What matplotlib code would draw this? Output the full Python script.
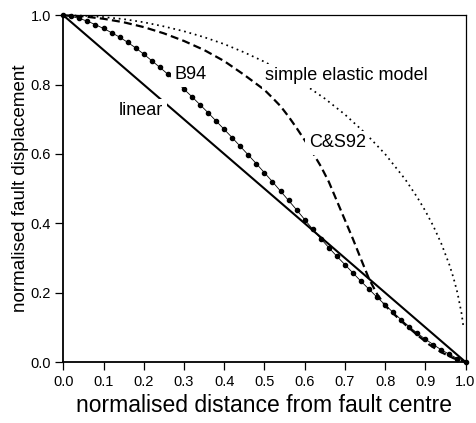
import matplotlib
matplotlib.use("Agg")
import matplotlib.pyplot as plt

plt.rcParams['font.family'] = ['Liberation Sans', 'DejaVu Sans']

# Linear taper
linear_x = [0.0, 1.0]
linear_y = [1.0, 0.0]

# B94 profile (sampled every 0.02)
b94_x = [0.00, 0.02, 0.04, 0.06, 0.08, 0.10, 0.12, 0.14, 0.16, 0.18,
         0.20, 0.22, 0.24, 0.26, 0.28, 0.30, 0.32, 0.34, 0.36, 0.38,
         0.40, 0.42, 0.44, 0.46, 0.48, 0.50, 0.52, 0.54, 0.56, 0.58,
         0.60, 0.62, 0.64, 0.66, 0.68, 0.70, 0.72, 0.74, 0.76, 0.78,
         0.80, 0.82, 0.84, 0.86, 0.88, 0.90, 0.92, 0.94, 0.96, 0.98, 1.00]
b94_y = [1.000, 0.997, 0.991, 0.983, 0.973, 0.962, 0.950, 0.937, 0.922, 0.906,
         0.888, 0.869, 0.850, 0.830, 0.809, 0.787, 0.765, 0.742, 0.719, 0.695,
         0.671, 0.647, 0.622, 0.597, 0.572, 0.546, 0.520, 0.493, 0.466, 0.439,
         0.411, 0.383, 0.356, 0.330, 0.305, 0.281, 0.257, 0.233, 0.210, 0.187,
         0.165, 0.143, 0.122, 0.102, 0.083, 0.066, 0.050, 0.035, 0.022, 0.010, 0.000]

# C&S92 profile
cs92_x = [0.00, 0.05, 0.10, 0.15, 0.20, 0.25, 0.30, 0.35, 0.40, 0.45,
          0.50, 0.52, 0.54, 0.56, 0.58, 0.60, 0.62, 0.64, 0.66, 0.68,
          0.70, 0.72, 0.74, 0.76, 0.78, 0.80, 0.82, 0.85, 0.88, 0.91,
          0.94, 0.97, 1.00]
cs92_y = [1.000, 0.997, 0.990, 0.980, 0.966, 0.948, 0.926, 0.900, 0.868, 0.828,
          0.785, 0.762, 0.738, 0.708, 0.675, 0.640, 0.604, 0.565, 0.520, 0.465,
          0.410, 0.355, 0.297, 0.240, 0.196, 0.163, 0.140, 0.108, 0.078, 0.050,
          0.028, 0.011, 0.000]

# Simple elastic model
elastic_x = [0.00, 0.05, 0.10, 0.15, 0.20, 0.25, 0.30, 0.35, 0.40, 0.45,
             0.50, 0.55, 0.60, 0.65, 0.70, 0.75, 0.80, 0.85, 0.88, 0.90,
             0.92, 0.94, 0.96, 0.97, 0.98, 0.99, 0.995]
elastic_y = [1.000, 0.999, 0.995, 0.989, 0.980, 0.968, 0.954, 0.937, 0.917, 0.893,
             0.866, 0.835, 0.800, 0.760, 0.714, 0.661, 0.600, 0.527, 0.475, 0.436,
             0.392, 0.341, 0.280, 0.243, 0.199, 0.141, 0.100]

ticks = [0.0, 0.1, 0.2, 0.3, 0.4, 0.5, 0.6, 0.7, 0.8, 0.9, 1.0]
yticks = [0.0, 0.2, 0.4, 0.6, 0.8, 1.0]

fig = plt.figure(figsize=(4.76, 4.23), dpi=100)
ax = fig.add_axes([0.133, 0.1442, 0.845, 0.8196])

ax.plot(linear_x, linear_y, color='black', lw=1.5, solid_capstyle='butt',
        clip_on=False, zorder=3)
ax.plot(b94_x, b94_y, color='black', lw=0.6, marker='o', markersize=3.0,
        clip_on=False, zorder=4)
ax.plot(cs92_x, cs92_y, color='black', lw=1.6, linestyle=(0, (3.6, 1.9)),
        clip_on=False, zorder=3)
ax.plot(elastic_x, elastic_y, color='black', lw=1.25, linestyle=(0, (1.0, 2.2)),
        clip_on=False, zorder=3)

box = dict(facecolor='white', edgecolor='none', pad=2.5)
lab = dict(fontsize=13, ha='center', va='center', bbox=box, zorder=6)
ax.text(0.317, 0.828, 'B94', **lab)
ax.text(0.194, 0.725, 'linear', **lab)
ax.text(0.704, 0.825, 'simple elastic model', **lab)
ax.text(0.681, 0.632, 'C&S92', **lab)

ax.set_xlim(0, 1)
ax.set_ylim(0, 1)
ax.set_xticks(ticks)
ax.set_yticks(yticks)
ax.set_xticklabels([f'{t:.1f}' for t in ticks])
ax.set_yticklabels([f'{t:.1f}' for t in yticks])
ax.tick_params(direction='out', length=6, width=0.9, labelsize=10.5, pad=3,
               top=False, right=False)

for side in ('left', 'bottom'):
    ax.spines[side].set_linewidth(1.3)
for side in ('top', 'right'):
    ax.spines[side].set_linewidth(0.9)

ax.set_xlabel('normalised distance from fault centre', fontsize=16.5, labelpad=4)
ax.set_ylabel('normalised fault displacement', fontsize=13.5, labelpad=1)

fig.savefig('out.png', dpi=100)
